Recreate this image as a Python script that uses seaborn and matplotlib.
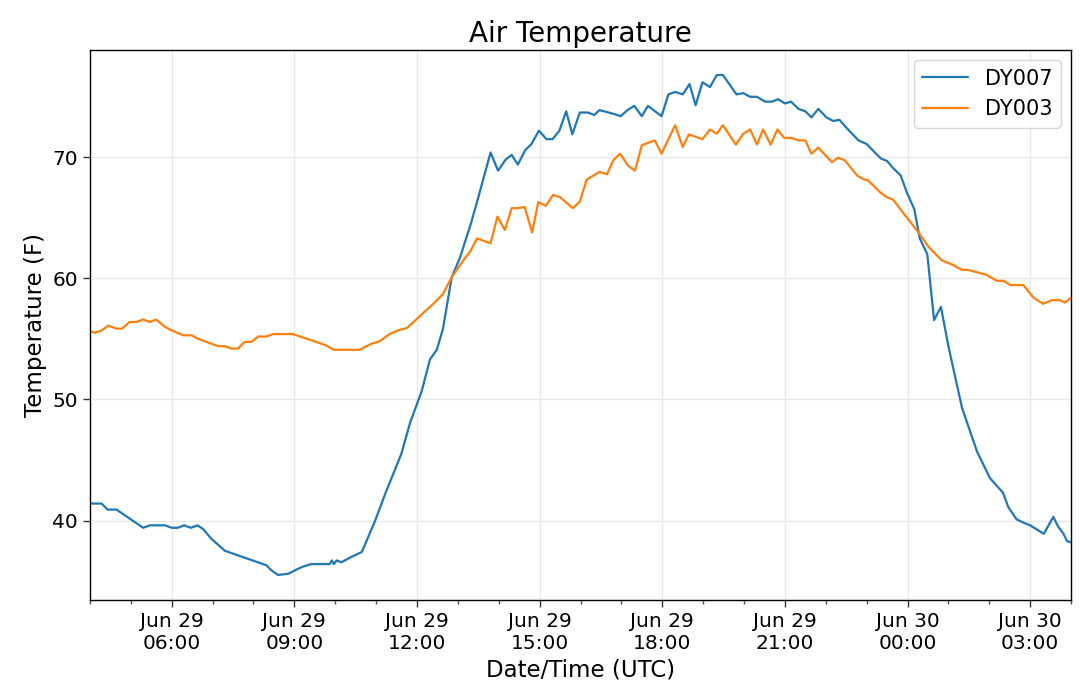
import numpy as np
import pandas as pd
import matplotlib
matplotlib.use("Agg")
import matplotlib.pyplot as plt
import matplotlib.dates as mdates
import seaborn as sns

# ---- data ----
dy007_times = [
    "06-29 04:00", "06-29 04:17", "06-29 04:26", "06-29 04:39", "06-29 05:18", "06-29 05:28",
    "06-29 05:50", "06-29 06:00", "06-29 06:09", "06-29 06:18", "06-29 06:28", "06-29 06:38",
    "06-29 06:46", "06-29 06:58", "06-29 07:18", "06-29 08:19", "06-29 08:26", "06-29 08:36",
    "06-29 08:51", "06-29 09:05", "06-29 09:13", "06-29 09:25", "06-29 09:52", "06-29 09:55",
    "06-29 09:58", "06-29 10:02", "06-29 10:09", "06-29 10:24", "06-29 10:39", "06-29 10:58",
    "06-29 11:14", "06-29 11:37", "06-29 11:50", "06-29 12:07", "06-29 12:19", "06-29 12:29",
    "06-29 12:38", "06-29 12:51",
    "06-29 13:03", "06-29 13:19", "06-29 13:30", "06-29 13:48", "06-29 13:59", "06-29 14:10",
    "06-29 14:19", "06-29 14:28", "06-29 14:39", "06-29 14:48", "06-29 14:59", "06-29 15:10",
    "06-29 15:19", "06-29 15:29", "06-29 15:39", "06-29 15:48", "06-29 15:59", "06-29 16:11",
    "06-29 16:20", "06-29 16:28", "06-29 16:48", "06-29 16:59", "06-29 17:10", "06-29 17:19",
    "06-29 17:30", "06-29 17:39", "06-29 17:59", "06-29 18:09", "06-29 18:19", "06-29 18:30",
    "06-29 18:40", "06-29 18:49", "06-29 18:59", "06-29 19:10", "06-29 19:20", "06-29 19:29",
    "06-29 19:49", "06-29 19:59", "06-29 20:09", "06-29 20:19", "06-29 20:31", "06-29 20:41",
    "06-29 20:50", "06-29 21:00", "06-29 21:09", "06-29 21:20", "06-29 21:30", "06-29 21:39",
    "06-29 21:49", "06-29 22:01", "06-29 22:11", "06-29 22:20", "06-29 22:31", "06-29 22:48",
    "06-29 23:00", "06-29 23:12", "06-29 23:21", "06-29 23:30", "06-29 23:39", "06-29 23:50",
    "06-29 23:59", "06-30 00:10", "06-30 00:18", "06-30 00:29", "06-30 00:39", "06-30 00:49",
    "06-30 01:00", "06-30 01:08", "06-30 01:20", "06-30 01:42", "06-30 02:01", "06-30 02:20",
    "06-30 02:28", "06-30 02:40", "06-30 02:51", "06-30 03:00", "06-30 03:20", "06-30 03:34",
    "06-30 03:41", "06-30 03:49", "06-30 03:54", "06-30 04:00",
]
dy007_temp = [
    41.4, 41.4, 40.9, 40.9, 39.4, 39.6,
    39.6, 39.4, 39.4, 39.6, 39.4, 39.6,
    39.3, 38.5, 37.5, 36.3, 35.9, 35.5,
    35.6, 36.0, 36.2, 36.4, 36.4, 36.7,
    36.4, 36.7, 36.55, 37.0, 37.4, 39.9,
    42.3, 45.5, 48.1, 50.7, 53.3, 54.1,
    55.8, 60.1,
    61.7, 64.5, 66.7, 70.4, 68.9, 69.8,
    70.2, 69.4, 70.6, 71.1, 72.2, 71.5,
    71.5, 72.2, 73.8, 71.9, 73.7, 73.7,
    73.5, 73.9, 73.6, 73.4, 73.95, 74.25,
    73.4, 74.25, 73.4, 75.2, 75.4, 75.2,
    76.05, 74.3, 76.2, 75.8, 76.8, 76.8,
    75.2, 75.3, 75.0, 75.0, 74.6, 74.6,
    74.8, 74.45, 74.6, 74.0, 73.8, 73.3,
    74.0, 73.3, 73.0, 73.1, 72.4, 71.4,
    71.1, 70.4, 69.9, 69.7, 69.1, 68.5,
    67.1, 65.7, 63.3, 62.0, 56.55, 57.65,
    54.4, 52.35, 49.3, 45.7, 43.5, 42.3,
    41.1, 40.1, 39.8, 39.6, 38.9, 40.3,
    39.5, 38.9, 38.3, 38.2,
]

dy003_times = [
    "06-29 04:00", "06-29 04:07", "06-29 04:17", "06-29 04:27", "06-29 04:39", "06-29 04:47",
    "06-29 04:58", "06-29 05:08", "06-29 05:18", "06-29 05:28", "06-29 05:37", "06-29 05:50",
    "06-29 06:00", "06-29 06:17", "06-29 06:29", "06-29 06:39", "06-29 07:08", "06-29 07:18",
    "06-29 07:28", "06-29 07:37", "06-29 07:47", "06-29 07:57", "06-29 08:07", "06-29 08:19",
    "06-29 08:29", "06-29 08:58", "06-29 09:45", "06-29 09:58", "06-29 10:36", "06-29 10:53",
    "06-29 11:05", "06-29 11:20", "06-29 11:32", "06-29 11:45", "06-29 11:57", "06-29 12:12",
    "06-29 12:24", "06-29 12:38", "06-29 12:51", "06-29 13:08", "06-29 13:18", "06-29 13:28",
    "06-29 13:48", "06-29 13:58", "06-29 14:09", "06-29 14:19", "06-29 14:28", "06-29 14:38",
    "06-29 14:49", "06-29 14:58", "06-29 15:09", "06-29 15:20", "06-29 15:30", "06-29 15:49",
    "06-29 15:59", "06-29 16:09", "06-29 16:28", "06-29 16:39", "06-29 16:48", "06-29 16:58",
    "06-29 17:10", "06-29 17:20", "06-29 17:30", "06-29 17:49", "06-29 17:59", "06-29 18:09",
    "06-29 18:19", "06-29 18:30", "06-29 18:39", "06-29 18:59", "06-29 19:10", "06-29 19:20",
    "06-29 19:29", "06-29 19:48", "06-29 19:59", "06-29 20:09", "06-29 20:19", "06-29 20:28",
    "06-29 20:39", "06-29 20:49", "06-29 20:59", "06-29 21:10", "06-29 21:20", "06-29 21:30",
    "06-29 21:39", "06-29 21:49", "06-29 22:09", "06-29 22:18", "06-29 22:28", "06-29 22:46",
    "06-29 22:55", "06-29 23:02", "06-29 23:20", "06-29 23:30", "06-29 23:39", "06-29 23:51",
    "06-30 00:16", "06-30 00:31", "06-30 00:50", "06-30 01:07", "06-30 01:20", "06-30 01:29",
    "06-30 01:56", "06-30 02:11", "06-30 02:21", "06-30 02:31", "06-30 02:50", "06-30 03:05",
    "06-30 03:19", "06-30 03:32", "06-30 03:44", "06-30 03:51", "06-30 04:00",
]
dy003_temp = [
    55.66, 55.5, 55.7, 56.1, 55.85, 55.85,
    56.4, 56.4, 56.6, 56.4, 56.6, 56.0,
    55.7, 55.3, 55.3, 55.0, 54.4, 54.4,
    54.2, 54.2, 54.75, 54.75, 55.2, 55.2,
    55.4, 55.4, 54.5, 54.1, 54.1, 54.6,
    54.8, 55.4, 55.7, 55.9, 56.5, 57.3,
    57.9, 58.7, 60.1, 61.5, 62.2, 63.3,
    62.9, 65.1, 64.0, 65.8, 65.8, 65.9,
    63.8, 66.3, 66.0, 66.9, 66.7, 65.8,
    66.35, 68.15, 68.8, 68.6, 69.75, 70.3,
    69.3, 68.9, 71.0, 71.4, 70.3, 71.5,
    72.65, 70.85, 71.9, 71.5, 72.3, 71.95,
    72.65, 71.05, 71.95, 72.3, 71.05, 72.3,
    71.05, 72.3, 71.6, 71.6, 71.4, 71.4,
    70.3, 70.8, 69.6, 69.97, 69.75, 68.5,
    68.2, 68.1, 67.1, 66.7, 66.5, 65.6,
    63.8, 62.6, 61.5, 61.1, 60.7, 60.7,
    60.3, 59.8, 59.8, 59.45, 59.45, 58.4,
    57.9, 58.2, 58.2, 58.0, 58.4,
]

series_names = ["DY007", "DY003"]
year = "2019"

df = pd.concat([
    pd.DataFrame({"time": pd.to_datetime([f"{year}-{t}" for t in dy007_times]),
                  "temp": dy007_temp, "station": series_names[0]}),
    pd.DataFrame({"time": pd.to_datetime([f"{year}-{t}" for t in dy003_times]),
                  "temp": dy003_temp, "station": series_names[1]}),
], ignore_index=True)

# ---- plot ----
sns.set_style("white")
plt.rcParams["font.family"] = ["DejaVu Sans"]
plt.rcParams["text.color"] = "black"
plt.rcParams["axes.labelcolor"] = "black"
plt.rcParams["xtick.color"] = "black"
plt.rcParams["ytick.color"] = "black"

fig = plt.figure(figsize=(10.8, 6.86), dpi=100)
ax = fig.add_axes([0.0833, 0.1254, 0.9084, 0.8017])

sns.lineplot(data=df, x="time", y="temp", hue="station",
             palette=["#1f77b4", "#ff7f0e"], linewidth=1.6, ax=ax,
             estimator=None, sort=True)

ax.set_xlim(df["time"].min(), df["time"].max())
ax.set_ylim(df["temp"].min() - 0.05 * (df["temp"].max() - df["temp"].min()),
            df["temp"].max() + 0.05 * (df["temp"].max() - df["temp"].min()))
ax.xaxis.set_major_locator(mdates.HourLocator(byhour=range(0, 24, 3)))
ax.xaxis.set_minor_locator(mdates.HourLocator())
ax.xaxis.set_major_formatter(mdates.DateFormatter("%b %d\n%H:%M"))
ax.yaxis.set_major_locator(plt.MultipleLocator(10))

ax.grid(True, which="major", color="#e8e8e8", linewidth=1.0)
ax.tick_params(axis="both", which="major", labelsize=14.5, length=5, width=1,
               direction="out", left=True, bottom=True, color="#333333",
               labelcolor="black")
ax.tick_params(axis="x", which="minor", length=3, width=1, bottom=True, color="#555555")
for s in ax.spines.values():
    s.set_color("black")
    s.set_linewidth(1.0)

ax.set_title("Air Temperature", fontsize=20, color="black")
ax.set_xlabel("Date/Time (UTC)", fontsize=16.5, color="black")
ax.set_ylabel("Temperature (F)", fontsize=16.5, color="black")

leg = ax.legend(loc="upper right", fontsize=15, frameon=True, title=None,
                handlelength=2.2)
leg.get_frame().set_edgecolor("#cccccc")
for t in leg.get_texts():
    t.set_color("black")

fig.savefig("out.png", dpi=100)
